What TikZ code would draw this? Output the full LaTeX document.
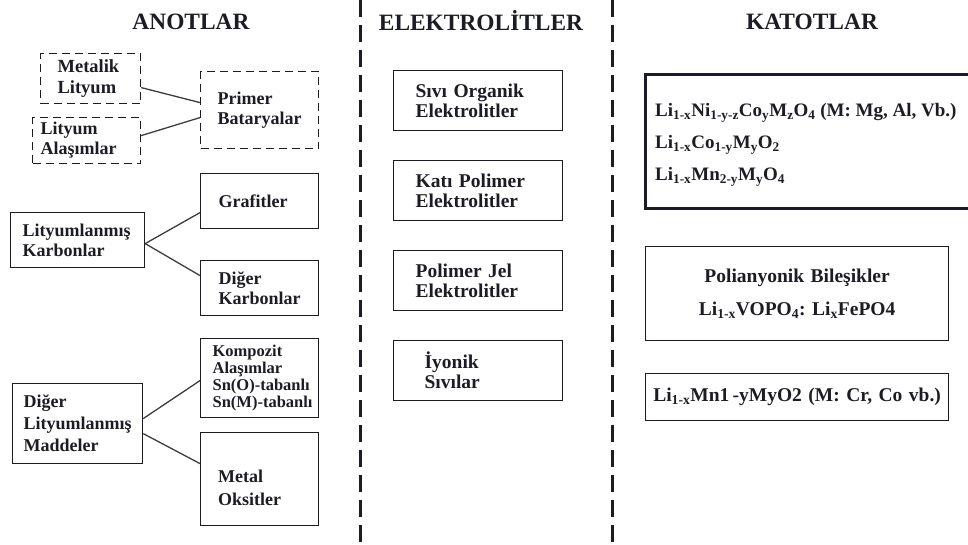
\documentclass[tikz,border=0pt]{standalone}
\usepackage{fontspec}
\setmainfont{Liberation Serif}
\frenchspacing
\definecolor{ink}{RGB}{28,28,38}
\definecolor{wire}{RGB}{60,60,60}
\tikzset{
  txt/.style={font=\fontsize{18}{20}\selectfont\bfseries, text=ink},
  box/.style={txt, draw=ink, line width=1.2pt, rectangle, anchor=north west, align=left, inner ysep=0pt},
  dbox/.style={box, dash pattern=on 8pt off 5pt},
  ebox/.style={box, minimum width=169, minimum height=60, inner xsep=22, text width=125, font=\fontsize{19.5}{20}\selectfont\bfseries},
  link/.style={draw=wire, line width=1.3pt},
  divider/.style={draw=ink, line width=3pt, dash pattern=on 17pt off 8pt},
  title/.style={font=\fontsize{23.4}{25}\selectfont\bfseries, text=ink}
}
\begin{document}
\begin{tikzpicture}[x=1pt,y=-1pt]
\useasboundingbox (0,0) rectangle (968,545);
\clip (0,0) rectangle (968,545);

% titles
\node[title] (tA) at (191,22) {ANOTLAR};
\node[title] (tE) at (481,21) {ELEKTROLİTLER};
\node[title] (tK) at (812,22) {KATOTLAR};

% dividers
\coordinate (d1t) at (360,0); \coordinate (d1b) at (360,545);
\coordinate (d2t) at (612,0); \coordinate (d2b) at (612,545);
\draw[divider] (d1t) -- (d1b);
\draw[divider] (d2t) -- (d2b);

% anodes
\node[dbox, minimum width=100, minimum height=50, inner xsep=17, text width=66, font=\fontsize{18.5}{21}\selectfont\bfseries] (met) at (40,53) {Metalik\\Lityum};
\node[dbox, minimum width=108, minimum height=46, inner xsep=8, text width=92] (ala) at (32,117) {Lityum\\Alaşımlar};
\node[dbox, minimum width=118, minimum height=77, inner xsep=17, text width=84] (pri) at (200,71) {Primer\\Bataryalar};

\node[box, minimum width=132, minimum height=55, inner xsep=12, text width=110] (lk) at (10,212) {Lityumlanmış\\Karbonlar};
\node[box, minimum width=118, minimum height=55, inner xsep=18, text width=82] (gr) at (200,173) {Grafitler};
\node[box, minimum width=118, minimum height=55, inner xsep=18, text width=82] (dk) at (200,260) {Diğer\\Karbonlar};

\node[box, minimum width=130, minimum height=80, inner xsep=11, text width=108, font=\fontsize{18}{22}\selectfont\bfseries] (dl) at (12,383) {Diğer\\Lityumlanmış\\Maddeler};
\node[box, minimum width=118, minimum height=79, inner xsep=12, text width=94, font=\fontsize{16.5}{17}\selectfont\bfseries] (ko) at (200,338) {Kompozit\\Alaşımlar\\\mbox{Sn(O)-tabanlı}\\\mbox{Sn(M)-tabanlı}};
\node[box, minimum width=118, minimum height=93] (mo) at (200,432) {};
\node[txt, anchor=west, align=left, inner sep=0pt, font=\fontsize{18}{23}\selectfont\bfseries] (mot) at (218,488) {Metal\\Oksitler};

\draw[link] ([yshift=-9pt]met.east) -- ([yshift=7.5pt]pri.west);
\draw[link] ([yshift=5pt]ala.east) -- ([yshift=-7.5pt]pri.west);
\draw[link] ([yshift=-3.5pt]lk.east) -- ([yshift=-11.5pt]gr.west);
\draw[link] ([yshift=-3.5pt]lk.east) -- ([yshift=12.5pt]dk.west);
\draw[link] ([yshift=5pt]dl.east) -- ([yshift=-2.5pt]ko.west);
\draw[link] ([yshift=-10pt]dl.east) -- ([yshift=15.5pt]mo.west);

% electrolytes
\node[ebox] (e1) at (393,70) {Sıvı Organik\\Elektrolitler};
\node[ebox] (e2) at (393,160) {Katı Polimer\\Elektrolitler};
\node[ebox] (e3) at (393,250) {Polimer Jel\\Elektrolitler};
\node[ebox, inner xsep=31, text width=107] (e4) at (393,340) {İyonik\\Sıvılar};

% cathodes
\node[box, line width=2.6pt, minimum width=360, minimum height=134] (c1) at (644,73) {};
\node[txt, anchor=west, align=left, inner sep=0pt, font=\fontsize{19}{32}\selectfont\bfseries] (c1t) at (655,145)
  {Li\textsubscript{1-x}Ni\textsubscript{1-y-z}Co\textsubscript{y}M\textsubscript{z}O\textsubscript{4} (M: Mg, Al, Vb.)\\
   Li\textsubscript{1-x}Co\textsubscript{1-y}M\textsubscript{y}O\textsubscript{2}\\
   Li\textsubscript{1-x}Mn\textsubscript{2-y}M\textsubscript{y}O\textsubscript{4}};
\node[box, align=center, minimum width=303, minimum height=94, inner xsep=6, text width=291, font=\fontsize{19.5}{33}\selectfont\bfseries] (c2) at (645,246)
  {Polianyonik Bileşikler\\Li\textsubscript{1-x}VOPO\textsubscript{4}: Li\textsubscript{x}FePO4};
\node[box, align=center, minimum width=303, minimum height=47, inner xsep=4, text width=295, font=\fontsize{19.5}{20}\selectfont\bfseries] (c3) at (645,373)
  {Li\textsubscript{1-x}Mn1\,-yMyO2 (M: Cr, Co vb.)};
\end{tikzpicture}
\end{document}
